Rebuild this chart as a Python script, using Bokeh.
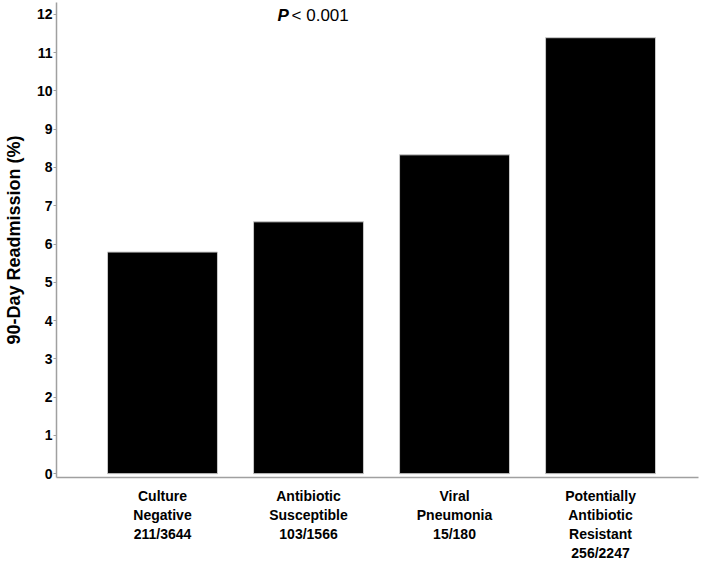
from bokeh.plotting import figure
from bokeh.models import ColumnDataSource, FixedTicker, Range1d, Label
from bokeh.embed import file_html
from bokeh.resources import INLINE

categories = ["Culture\nNegative\n211/3644",
              "Antibiotic\nSusceptible\n103/1566",
              "Viral\nPneumonia\n15/180",
              "Potentially\nAntibiotic\nResistant\n256/2247"]
readmission_pct = [5.79, 6.58, 8.33, 11.39]
y_ticks = list(range(0, 13))

FONT = "Liberation Sans"
xpos = list(range(len(categories)))

p = figure(frame_width=642, frame_height=475,
           min_border_left=56, min_border_right=1,
           min_border_top=2, min_border_bottom=76,
           x_range=Range1d(-0.726, 3.671), y_range=Range1d(-0.1, 12.31),
           output_backend="svg", toolbar_location=None,
           background_fill_color="white", border_fill_color="white")
p.outline_line_color = None
p.grid.visible = False

src = ColumnDataSource(dict(x=xpos, top=readmission_pct))
p.vbar(x="x", top="top", bottom=0, width=0.753, source=src,
       fill_color="black", line_color="#c8c8c8", line_width=1)

# y axis
p.yaxis.ticker = FixedTicker(ticks=y_ticks)
p.yaxis.axis_label = "90-Day Readmission (%)"
p.yaxis.axis_label_text_font = FONT
p.yaxis.axis_label_text_font_size = "18px"
p.yaxis.axis_label_text_font_style = "bold"
p.yaxis.axis_label_text_color = "black"
p.yaxis.axis_label_standoff = 10
p.yaxis.major_label_text_font = FONT
p.yaxis.major_label_text_font_size = "14px"
p.yaxis.major_label_text_font_style = "bold"
p.yaxis.major_label_text_color = "black"
p.yaxis.major_label_standoff = 1
p.yaxis.major_tick_in = 0
p.yaxis.major_tick_out = 3
p.yaxis.minor_tick_in = 0
p.yaxis.minor_tick_out = 0
p.yaxis.axis_line_color = "#a0a0a0"
p.yaxis.major_tick_line_color = "#a0a0a0"
p.yaxis.axis_line_width = 1.5

# x axis
p.xaxis.ticker = FixedTicker(ticks=xpos)
p.xaxis.major_label_overrides = {i: c for i, c in zip(xpos, categories)}
p.xaxis.major_label_text_font = FONT
p.xaxis.major_label_text_font_size = "14px"
p.xaxis.major_label_text_font_style = "bold"
p.xaxis.major_label_text_color = "black"
p.xaxis.major_label_text_line_height = 1.2
p.xaxis.major_label_standoff = 10
p.xaxis.major_tick_in = 0
p.xaxis.major_tick_out = 0
p.xaxis.minor_tick_in = 0
p.xaxis.minor_tick_out = 0
p.xaxis.axis_line_color = "#a0a0a0"
p.xaxis.axis_line_width = 1.5

# P-value annotation
p.add_layout(Label(x=0.788, y=11.97, text="P", text_font=FONT,
                   text_font_size="17px", text_font_style="bold italic",
                   text_baseline="middle", text_align="left", text_color="black"))
p.add_layout(Label(x=0.884, y=11.97, text="< 0.001", text_font=FONT,
                   text_font_size="17px", text_font_style="normal",
                   text_baseline="middle", text_align="left", text_color="black"))

open("out.html", "w").write(file_html(p, INLINE))
